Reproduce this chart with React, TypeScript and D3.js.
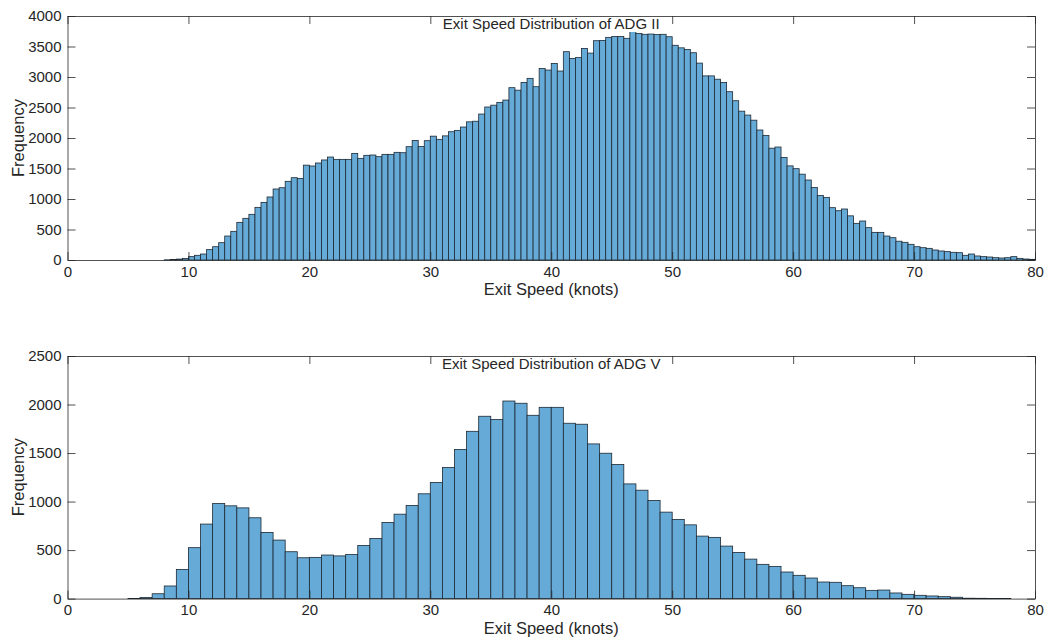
import React, { useEffect, useRef } from 'react';
import * as d3 from 'd3';

// ADG II: 0.5-knot bins from 0 to 80 (160 bins)
const adg2Counts = [
    0, 0, 0, 0, 0, 0, 0, 0, 0, 0, 0, 0, 0, 0, 0, 0,
    3, 8, 15, 25, 55, 77, 98, 170, 218, 284, 393, 470, 617, 683,
    749, 863, 945, 1033, 1164, 1185, 1290, 1349, 1338, 1555,
    1541, 1590, 1640, 1688, 1650, 1650, 1650, 1748, 1666, 1716,
    1721, 1694, 1732, 1732, 1765, 1759, 1858, 1960, 1860, 1956,
    2030, 1978, 2035, 2103, 2125, 2180, 2265, 2275, 2393, 2508,
    2538, 2584, 2622, 2825, 2784, 2910, 2978, 2841, 3138, 3114,
    3223, 3098, 3415, 3305, 3318, 3469, 3392, 3595, 3600, 3650,
    3665, 3663, 3634, 3765, 3715, 3700, 3704, 3695, 3700, 3660,
    3520, 3478, 3450, 3398, 3228, 3018, 3018, 2964, 2910, 2759,
    2611, 2440, 2376, 2292, 2131, 2043, 1833, 1852, 1680, 1543,
    1497, 1407, 1311, 1189, 1057, 1027, 858, 808, 836, 724,
    601, 639, 530, 453, 453, 393, 366, 308, 290, 257,
    218, 202, 191, 164, 148, 137, 126, 120, 77, 98,
    66, 55, 49, 38, 33, 38, 55, 27, 16, 11,
];

// ADG V: 1-knot bins from 0 to 80
const adg5Counts = [
    0, 0, 0, 0, 0, 2, 12, 50, 130, 300,
    525, 768, 980, 956, 935, 833, 682, 603, 483, 421,
    425, 449, 440, 454, 548, 620, 785, 870, 960, 1080,
    1197, 1351, 1536, 1724, 1879, 1845, 2036, 2013, 1889, 1971,
    1971, 1807, 1797, 1594, 1498, 1382, 1182, 1117, 1011, 891,
    816, 760, 644, 631, 541, 476, 407, 353, 332, 274,
    240, 212, 171, 168, 133, 112, 85, 88, 58, 44,
    34, 27, 20, 14, 4, 3, 2, 2, 0, 0,
];

const xTicks = [0, 10, 20, 30, 40, 50, 60, 70, 80];
const adg2YTicks = [0, 500, 1000, 1500, 2000, 2500, 3000, 3500, 4000];
const adg5YTicks = [0, 500, 1000, 1500, 2000, 2500];

const panels = [
    { title: 'Exit Speed Distribution of ADG II', counts: adg2Counts, binWidth: 0.5, yMax: 4000, yTicks: adg2YTicks, top: 16, bottom: 260 },
    { title: 'Exit Speed Distribution of ADG V', counts: adg5Counts, binWidth: 1, yMax: 2500, yTicks: adg5YTicks, top: 356, bottom: 598.6 },
];

const App = () => {
    const svgRef = useRef(null);

    useEffect(() => {
        const width = 1046;
        const height = 641;
        const left = 67.5;
        const right = 1035;
        const font = '"Liberation Sans", Arial, Helvetica, sans-serif';
        const ink = '#262626';
        const tickLen = 8;

        const svg = d3.select(svgRef.current)
            .attr('width', width)
            .attr('height', height)
            .style('position', 'absolute')
            .style('left', 0)
            .style('top', 0)
            .style('background', '#fff');

        svg.selectAll('*').remove();

        const x = d3.scaleLinear().domain([0, 80]).range([left, right]);

        panels.forEach(p => {
            const y = d3.scaleLinear().domain([0, p.yMax]).range([p.bottom, p.top]);
            const g = svg.append('g');

            // Bars
            g.append('g')
                .selectAll('rect')
                .data(p.counts)
                .join('rect')
                .attr('x', (_, i) => x(i * p.binWidth))
                .attr('width', x(p.binWidth) - x(0))
                .attr('y', d => y(d))
                .attr('height', d => y(0) - y(d))
                .attr('fill', '#66aad7')
                .attr('stroke', '#1c2833')
                .attr('stroke-width', 0.8);

            // Axes (ticks pointing inward, mirrored on the box)
            g.append('g')
                .attr('transform', `translate(0,${p.bottom})`)
                .call(d3.axisBottom(x).tickValues(xTicks).tickSizeInner(-tickLen).tickSizeOuter(0).tickPadding(6));
            g.append('g')
                .attr('transform', `translate(0,${p.top})`)
                .call(d3.axisTop(x).tickValues(xTicks).tickSizeInner(-tickLen).tickSizeOuter(0).tickFormat(() => ''));
            g.append('g')
                .attr('transform', `translate(${left},0)`)
                .call(d3.axisLeft(y).tickValues(p.yTicks).tickSizeInner(-tickLen).tickSizeOuter(0).tickPadding(6).tickFormat(d3.format('d')));
            g.append('g')
                .attr('transform', `translate(${right},0)`)
                .call(d3.axisRight(y).tickValues(p.yTicks).tickSizeInner(-tickLen).tickSizeOuter(0).tickFormat(() => ''));

            g.selectAll('.domain').attr('stroke', ink).attr('stroke-width', 0.8);
            g.selectAll('.tick line').attr('stroke', ink).attr('stroke-width', 0.8);
            g.selectAll('.tick text').attr('fill', ink).style('font-family', font).style('font-size', '15px');

            // Title sits inside the top of the box, over a white patch
            g.append('rect')
                .attr('x', 437)
                .attr('y', p.top + 1)
                .attr('width', 229)
                .attr('height', 15)
                .attr('fill', '#fff');
            g.append('text')
                .attr('x', (left + right) / 2)
                .attr('y', p.top + 13)
                .attr('text-anchor', 'middle')
                .attr('fill', ink)
                .style('font-family', font)
                .style('font-size', '15px')
                .text(p.title);

            g.append('text')
                .attr('x', (left + right) / 2)
                .attr('y', p.bottom + 35)
                .attr('text-anchor', 'middle')
                .attr('fill', ink)
                .style('font-family', font)
                .style('font-size', '16.5px')
                .text('Exit Speed (knots)');

            g.append('text')
                .attr('transform', `translate(24,${(p.top + p.bottom) / 2}) rotate(-90)`)
                .attr('text-anchor', 'middle')
                .attr('fill', ink)
                .style('font-family', font)
                .style('font-size', '16.5px')
                .text('Frequency');
        });
    }, []);

    return <svg ref={svgRef}></svg>;
};

export default App;
